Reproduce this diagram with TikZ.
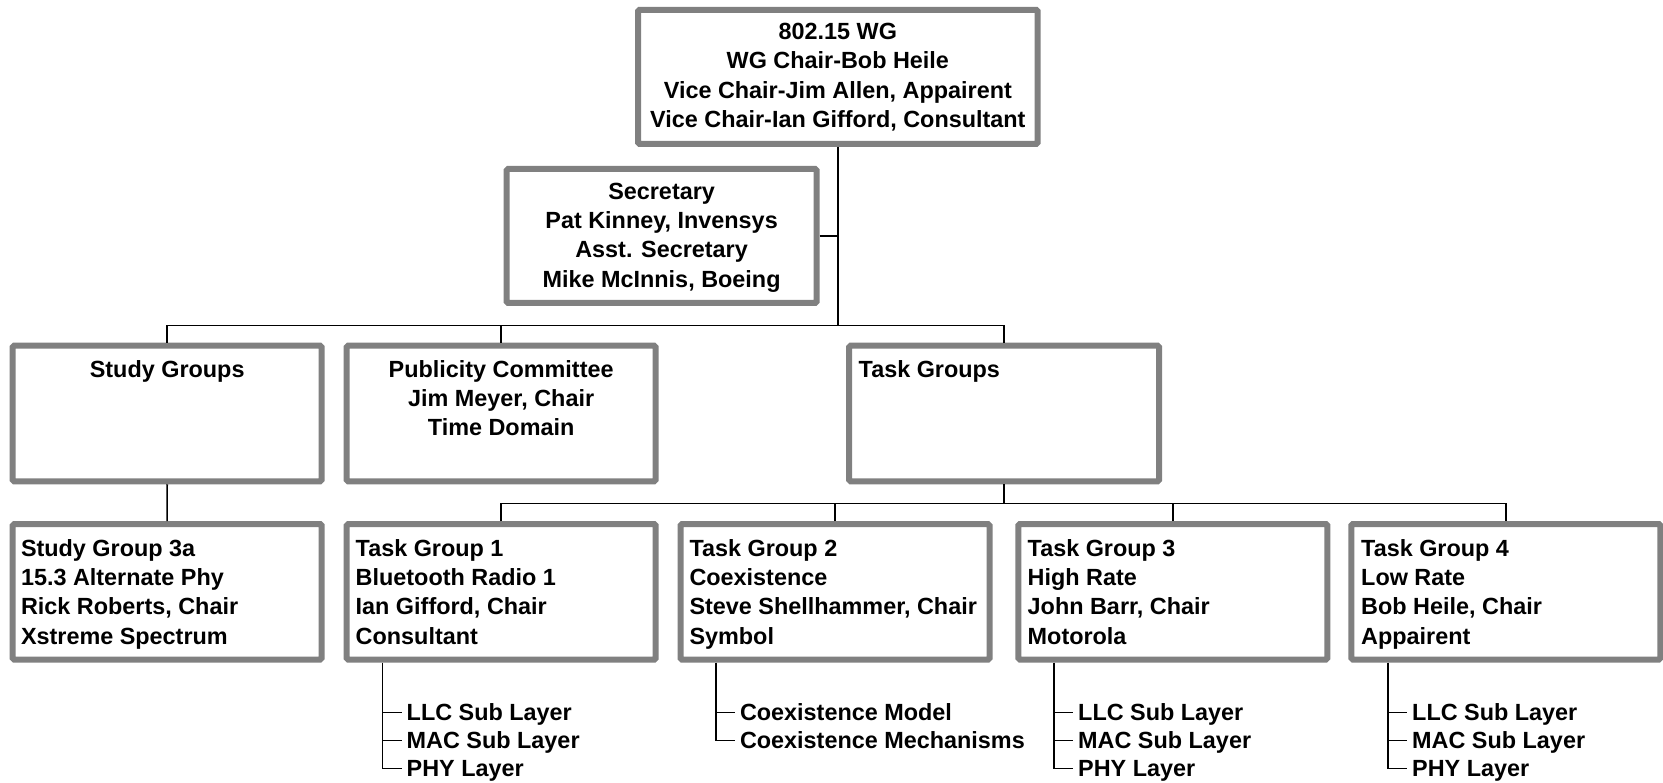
\documentclass[tikz,border=0pt]{standalone}
\usepackage{fontspec}
\setmainfont{Liberation Sans}
\definecolor{boxgray}{RGB}{128,128,128}
\newcommand{\firstln}{\rule{0pt}{18pt}}
\begin{document}
\begin{tikzpicture}[x=1pt,y=-1pt,
  box/.style={draw=boxgray, line width=6pt, rounded corners=1.5pt, fill=white,
              minimum width=309pt, minimum height=135.5pt, inner sep=0pt},
  txt/.style={font=\bfseries\fontsize{23.4}{29.3}\selectfont, inner sep=0pt},
  sub/.style={font=\bfseries\fontsize{23.4}{29.3}\selectfont, inner xsep=5pt,
              inner ysep=0pt, text height=16.8pt, text depth=0pt, anchor=west},
  conn/.style={draw=black, line width=1.6pt}]
\fill[white] (0,0) rectangle (1663,783);
\useasboundingbox (0,0) rectangle (1663,783);

% boxes
\node[box, minimum width=399.7pt, minimum height=134pt] (wg) at (837.85,76.85) {};
\node[box, minimum width=310pt, minimum height=134pt] (sec) at (661.6,236) {};
\node[box] (study) at (167.2,413.5) {};
\node[box] (pub) at (501.15,413.5) {};
\node[box, minimum width=310pt] (tasks) at (1004,413.5) {};
\node[box] (sg3a) at (167.15,591.85) {};
\node[box] (tg1) at (501.15,591.85) {};
\node[box] (tg2) at (835,591.85) {};
\node[box] (tg3) at (1172.85,591.85) {};
\node[box] (tg4) at (1505.85,591.85) {};

% texts
\node[txt, anchor=north, align=center] (wgtxt) at (837.85,21.3)
  {\firstln 802.15 WG\\WG Chair-Bob Heile\\Vice Chair-Jim Allen, Appairent\\Vice Chair-Ian Gifford, Consultant};
\node[txt, anchor=north, align=center] (sectxt) at (661.6,181)
  {\firstln Secretary\\Pat Kinney, Invensys\\Asst. Secretary\\Mike McInnis, Boeing};
\node[txt, anchor=north, align=center] (studytxt) at (167.2,359) {\firstln Study Groups};
\node[txt, anchor=north, align=center] (pubtxt) at (501.15,359)
  {\firstln Publicity Committee\\Jim Meyer, Chair\\Time Domain};
\node[txt, anchor=north west, align=left] (taskstxt) at (858.5,359) {\firstln Task Groups};
\node[txt, anchor=north west, align=left] (sg3atxt) at (20.8,538)
  {\firstln Study Group 3a\\15.3 Alternate Phy\\Rick Roberts, Chair\\Xstreme Spectrum};
\node[txt, anchor=north west, align=left] (tg1txt) at (355.5,538)
  {\firstln Task Group 1\\Bluetooth Radio 1\\Ian Gifford, Chair\\Consultant};
\node[txt, anchor=north west, align=left] (tg2txt) at (689.3,538)
  {\firstln Task Group 2\\Coexistence\\Steve Shellhammer, Chair\\Symbol};
\node[txt, anchor=north west, align=left] (tg3txt) at (1027.5,538)
  {\firstln Task Group 3\\High Rate\\John Barr, Chair\\Motorola};
\node[txt, anchor=north west, align=left] (tg4txt) at (1361,538)
  {\firstln Task Group 4\\Low Rate\\Bob Heile, Chair\\Appairent};

% connectors (upper)
\coordinate (bus1) at (837.85,325.5);
\coordinate (bus2) at (1004,503.5);
\draw[conn] (wg.south) -- (bus1);
\draw[conn] (sec.east) -- (sec.east -| bus1);
\draw[conn] (study.north) |- (bus1) -| (tasks.north);
\draw[conn] (pub.north) -- (pub.north |- bus1);
\draw[conn] (study.south) -- (sg3a.north);
\draw[conn] (tasks.south) -- (bus2);
\draw[conn] (tg1.north) |- (bus2) -| (tg4.north);
\draw[conn] (tg2.north) -- (tg2.north |- bus2);
\draw[conn] (tg3.north) -- (tg3.north |- bus2);

% sub lists
\coordinate (v1) at (382.5,662.7);
\coordinate (v2) at (715.8,662.7);
\coordinate (v3) at (1054,662.7);
\coordinate (v4) at (1388,662.7);

\node[sub] (t1a) at (401.5,712.5) {LLC Sub Layer};
\node[sub] (t1b) at (401.5,740.5) {MAC Sub Layer};
\node[sub] (t1c) at (401.5,768.5) {PHY Layer};
\node[sub] (t2a) at (734.8,712.5) {Coexistence Model};
\node[sub] (t2b) at (734.8,740.5) {Coexistence Mechanisms};
\node[sub] (t3a) at (1073,712.5) {LLC Sub Layer};
\node[sub] (t3b) at (1073,740.5) {MAC Sub Layer};
\node[sub] (t3c) at (1073,768.5) {PHY Layer};
\node[sub] (t4a) at (1407,712.5) {LLC Sub Layer};
\node[sub] (t4b) at (1407,740.5) {MAC Sub Layer};
\node[sub] (t4c) at (1407,768.5) {PHY Layer};

\draw[conn] (v1) |- (t1c.west);
\draw[conn] (v1 |- t1a.west) -- (t1a.west);
\draw[conn] (v1 |- t1b.west) -- (t1b.west);
\draw[conn] (v2) |- (t2b.west);
\draw[conn] (v2 |- t2a.west) -- (t2a.west);
\draw[conn] (v3) |- (t3c.west);
\draw[conn] (v3 |- t3a.west) -- (t3a.west);
\draw[conn] (v3 |- t3b.west) -- (t3b.west);
\draw[conn] (v4) |- (t4c.west);
\draw[conn] (v4 |- t4a.west) -- (t4a.west);
\draw[conn] (v4 |- t4b.west) -- (t4b.west);
\end{tikzpicture}
\end{document}
